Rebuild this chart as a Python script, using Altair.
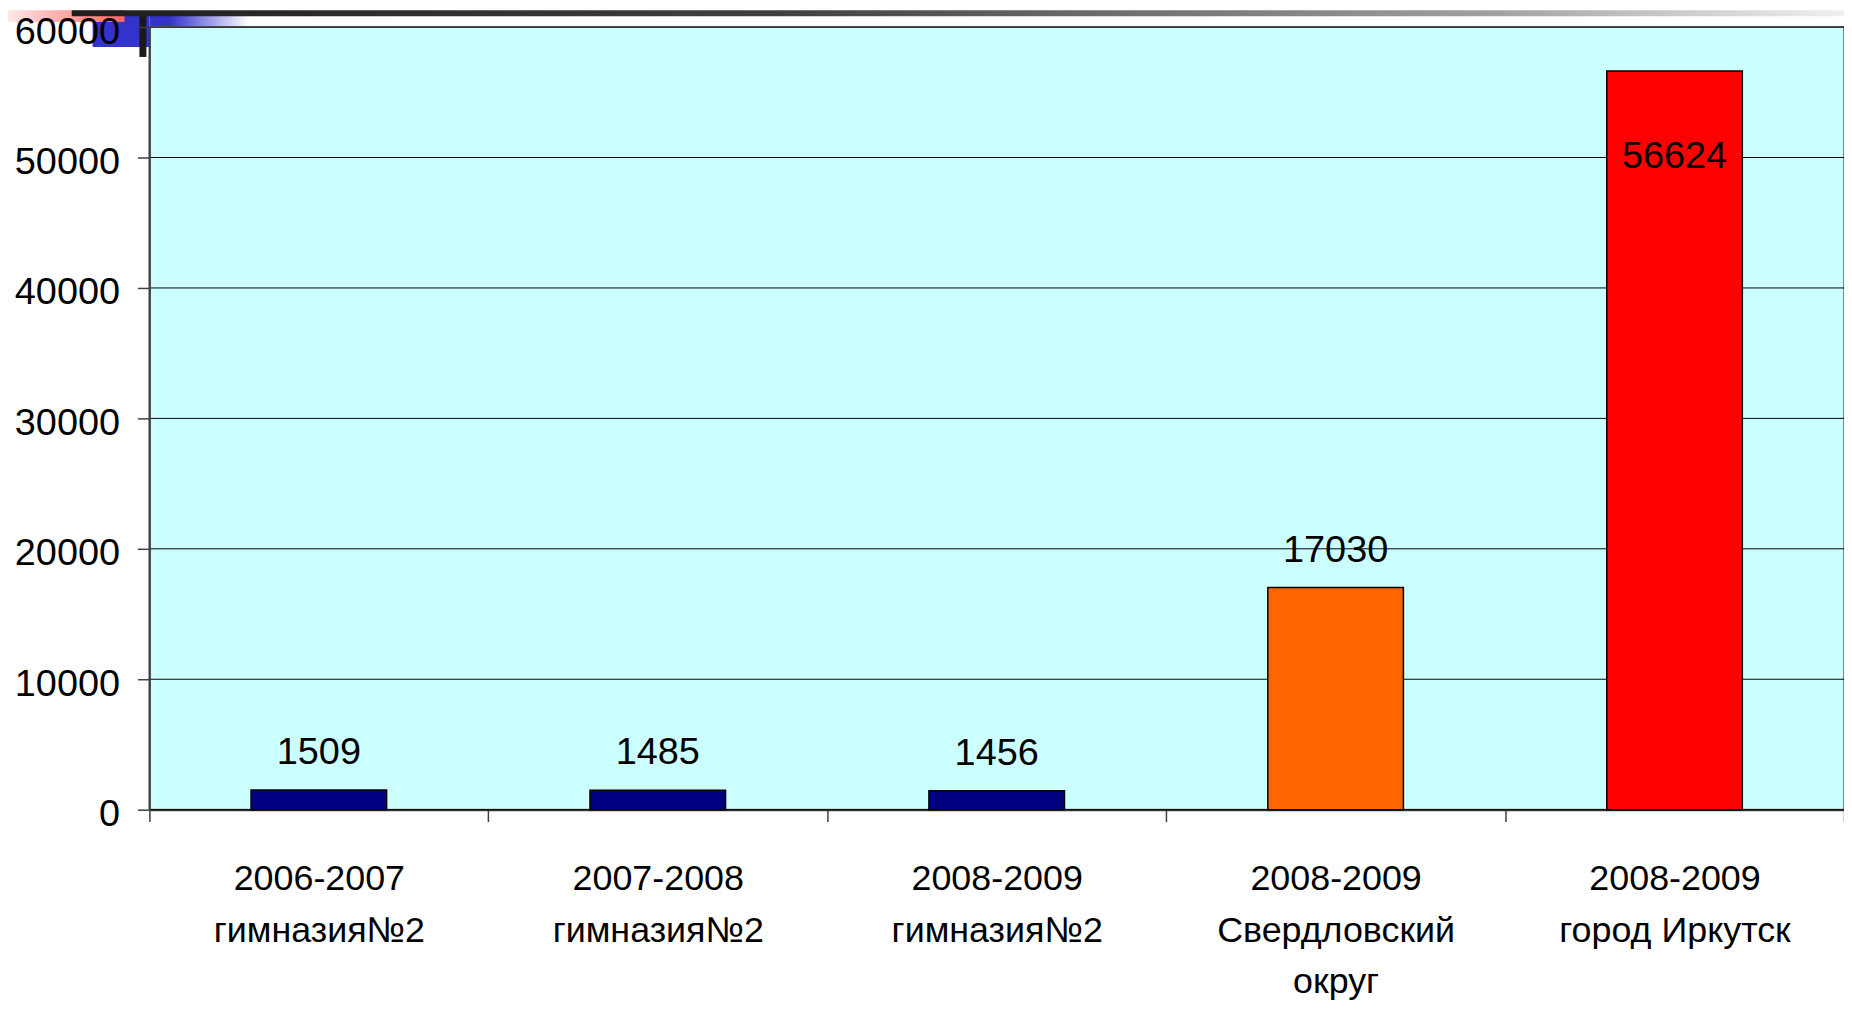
import altair as alt
import pandas as pd

categories = [
    "2006-2007\nгимназия№2",
    "2007-2008\nгимназия№2",
    "2008-2009\nгимназия№2",
    "2008-2009\nСвердловский\nокруг",
    "2008-2009\nгород Иркутск",
]
values = [1509, 1485, 1456, 17030, 56624]
bar_colors = ["#000080", "#000080", "#000080", "#FF6600", "#FF0000"]
y_ticks = [0, 10000, 20000, 30000, 40000, 50000, 60000]

df = pd.DataFrame({"cat": categories, "value": values, "color": bar_colors})
grid_df = pd.DataFrame({"value": y_ticks})
FONT = "Liberation Sans Narrow, Liberation Sans, Arial, sans-serif"

W, H = 1702, 786

x_enc = alt.X(
    "cat:N", sort=categories, title=None,
    scale=alt.Scale(paddingInner=0, paddingOuter=0),
    axis=alt.Axis(
        labelAngle=0, labelExpr="split(datum.label, '\\n')",
        labelFont=FONT, labelFontSize=36, labelColor="black",
        labelLineHeight=52, labelBaseline="top", labelPadding=40,
        labelLimit=0, tickSize=12, tickColor="#404040", tickWidth=1.5,
        tickBand="extent", domainColor="#404040", domainWidth=2,
    ),
)
y_scale = alt.Scale(domain=[0, 60000], nice=False)
y_axis = alt.Axis(
    values=y_ticks, format="d", labelFont=FONT, labelFontSize=38,
    labelColor="black", labelPadding=18, labelOffset=5, tickSize=12,
    tickColor="#404040", tickWidth=1.5, grid=False,
    domainColor="#404040", domainWidth=2, zindex=1,
)

gridlines = alt.Chart(grid_df).mark_rule(color="black", strokeWidth=1).encode(
    y=alt.Y("value:Q", scale=y_scale, axis=y_axis, title=None)
)

base = alt.Chart(df)
bars = base.mark_bar(
    stroke="black", strokeWidth=1.5, width=alt.RelativeBandSize(0.4)
).encode(
    x=x_enc,
    y=alt.Y("value:Q", scale=y_scale, axis=y_axis, title=None),
    color=alt.Color("color:N", scale=None),
)
labels_above = base.transform_filter("datum.value < 50000").mark_text(
    dy=-37, baseline="middle", font=FONT, fontSize=38, color="black"
).encode(x=alt.X("cat:N", sort=categories), y="value:Q",
         text=alt.Text("value:Q", format="d"))
labels_inside = base.transform_filter("datum.value >= 50000").mark_text(
    dy=86, baseline="middle", font=FONT, fontSize=38, color="black"
).encode(x=alt.X("cat:N", sort=categories), y="value:Q",
         text=alt.Text("value:Q", format="d"))

# slide-template decorations
deco_df = pd.DataFrame({"d": [0]})


def grad(stops):
    return alt.LinearGradient(
        gradient="linear", x1=0, x2=1, y1=0, y2=0,
        stops=[alt.GradientStop(offset=o, color=c) for o, c in stops],
    )


blue_a = alt.Chart(deco_df).mark_rect(color="#3333CC").encode(
    x=alt.value(-57), x2=alt.value(0), y=alt.value(-12), y2=alt.value(20))
blue_b = alt.Chart(deco_df).mark_rect(
    color=grad([(0, "#3333CC"), (0.2, "#3333CC"), (1, "#FFFFFF")])
).encode(x=alt.value(0), x2=alt.value(100), y=alt.value(-12), y2=alt.value(-1))
red = alt.Chart(deco_df).mark_rect(
    color=grad([(0, "#FFE8E8"), (1, "#FF6464")])
).encode(x=alt.value(-142), x2=alt.value(-25), y=alt.value(-17), y2=alt.value(-5))
dark = alt.Chart(deco_df).mark_rect(
    color=grad([(0, "#1E1E1E"), (0.4, "#404040"), (0.8, "#A0A0A0"), (1, "#F0F0F0")])
).encode(x=alt.value(-78), x2=alt.value(1702), y=alt.value(-17), y2=alt.value(-11))
blk = alt.Chart(deco_df).mark_rect(color="#1A1A1A").encode(
    x=alt.value(-10), x2=alt.value(-3), y=alt.value(-11), y2=alt.value(30))

chart = alt.layer(
    gridlines, bars, labels_above, labels_inside, blue_a, blue_b, red, dark, blk
).properties(
    width=W, height=H,
    padding={"left": 142, "top": 17, "right": 0, "bottom": 191},
    autosize=alt.AutoSizeParams(type="none"),
    background="white",
).configure_view(fill="#CCFFFF", stroke="#808080", strokeWidth=2)

chart.save("out.html", embed_options={"renderer": "svg", "actions": False})
